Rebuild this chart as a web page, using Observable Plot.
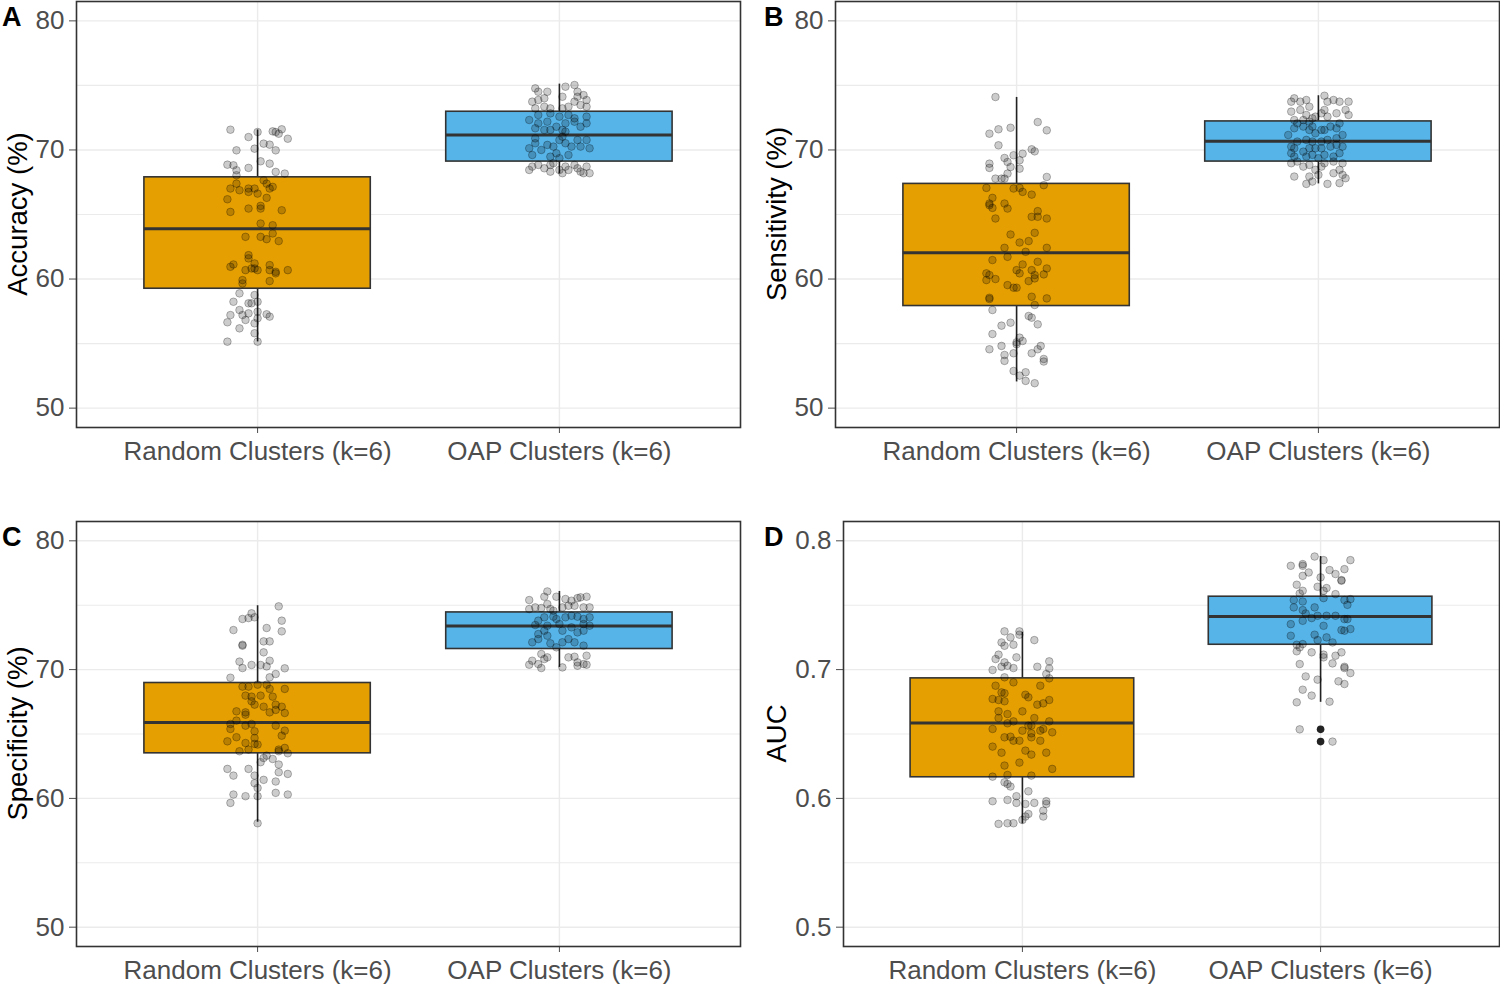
<!DOCTYPE html>
<html><head><meta charset="utf-8">
<script src="https://cdn.jsdelivr.net/npm/d3@7"></script>
<script src="https://cdn.jsdelivr.net/npm/@observablehq/plot@0.6"></script>
<style>
body{margin:0;background:#fff;}
#fig{position:relative;width:1500px;height:984px;overflow:hidden;background:#fff;}
#fig svg{position:absolute;}
</style></head><body><div id="fig"></div>
<script>
// ---------- data ----------
const categories = ["Random Clusters (k=6)", "OAP Clusters (k=6)"];
const boxFills = ["#E69F00", "#56B4E9"];
const pctTicks = [50, 60, 70, 80];
const pctMinor = [55, 65, 75];
const aucTicks = [0.5, 0.6, 0.7, 0.8];
const aucMinor = [0.55, 0.65, 0.75];

// box statistics per category: [lower whisker, Q1, median, Q3, upper whisker]
const accuracyStats = [[55.13, 59.25, 63.89, 67.88, 71.55], [68.15, 69.1, 71.16, 72.96, 75.1]];
const sensitivityStats = [[52.03, 57.91, 62.04, 67.37, 74.07], [67.37, 69.1, 70.67, 72.21, 74.2]];
const specificityStats = [[58.15, 63.5, 65.9, 68.96, 74.96], [70.17, 71.6, 73.38, 74.44, 76.07]];
const aucStats = [[0.5802, 0.6164, 0.6586, 0.6932, 0.7289], [0.6746, 0.7193, 0.7413, 0.7566, 0.7878]];
const aucOapOutliers = [0.6536, 0.6441];

// jittered observations: [value, horizontal jitter]
const accuracyRandom = [[71.57,-0.09],[71.0,-0.03],[71.39,0.0],[71.44,0.05],[71.39,0.06],[71.6,0.08],[71.26,0.07],[70.87,0.1],[69.97,-0.07],[70.1,-0.01],[70.49,0.02],[70.41,0.04],[69.97,0.06],[69.12,0.01],[68.94,0.04],[68.86,-0.1],[68.81,-0.08],[68.43,-0.07],[68.61,-0.03],[68.3,0.06],[68.17,0.09],[68.04,-0.07],
[67.39,-0.07],[67.01,-0.09],[66.88,-0.06],[66.75,-0.03],[67.01,-0.03],[67.01,-0.01],[67.65,0.02],[67.39,0.03],[67.01,0.04],[67.14,0.05],[66.18,-0.1],[66.62,0.0],[66.29,0.03],[65.67,0.01],[65.2,-0.09],[65.46,-0.03],[65.46,0.01],[65.33,0.08],[64.3,0.01],[64.17,0.05],
[63.27,-0.04],[63.27,0.01],[63.09,0.03],[63.53,0.05],[62.94,0.07],[61.85,-0.03],[61.6,-0.03],[61.13,-0.08],[60.95,-0.09],[60.69,-0.04],[60.82,-0.02],[61.21,-0.01],[60.82,-0.01],[60.69,0.0],[61.08,0.04],[60.69,0.04],[60.56,0.06],[60.44,0.06],[60.69,0.1],[59.92,-0.05],[59.66,-0.05],[59.84,0.04],
[58.89,-0.06],[58.76,-0.01],[58.24,-0.08],[58.12,-0.03],[58.12,-0.02],[58.24,0.0],[57.6,-0.06],[57.21,-0.09],[56.65,-0.1],[57.21,-0.05],[57.34,-0.03],[56.83,-0.04],[57.47,0.0],[57.27,0.03],[57.09,0.04],[56.96,0.0],[56.57,-0.01],[56.18,-0.06],[55.8,-0.01],[55.15,-0.1],[55.15,0.0]];
const accuracyOap = [[74.77,-0.08],[74.51,-0.07],[74.51,-0.04],[73.74,-0.09],[73.87,-0.07],[74.0,-0.05],[73.22,-0.08],[73.35,-0.05],[74.12,0.01],[74.9,0.02],[75.03,0.05],[74.51,0.06],[74.12,0.06],[73.74,0.05],[73.35,0.03],[74.25,0.08],[73.87,0.09],[73.35,0.09],[73.48,0.07],[73.22,-0.03],[73.22,0.01],
[72.71,-0.07],[72.83,-0.03],[72.58,0.0],[72.71,0.03],[72.45,0.05],[72.58,0.09],[72.19,-0.04],[72.06,0.02],[72.19,0.05],[71.68,-0.08],[71.55,-0.05],[71.55,-0.03],[71.8,-0.01],[71.55,0.01],[71.42,0.02],[71.8,0.07],[72.06,0.09],[72.06,-0.07],[72.32,-0.1],
[70.13,-0.1],[69.61,-0.09],[70.52,-0.08],[70.0,-0.06],[70.39,-0.04],[70.26,-0.02],[69.74,-0.01],[70.77,0.0],[70.52,0.02],[70.26,0.04],[70.77,0.06],[70.77,0.09],[70.13,0.1],[69.61,0.03],[69.48,-0.03],[69.36,0.0],[71.03,0.01],[70.9,-0.08],[70.26,0.07],
[68.45,-0.1],[68.71,-0.09],[68.84,-0.07],[68.58,-0.05],[68.84,-0.03],[68.97,-0.02],[68.45,0.0],[68.71,0.02],[68.45,0.03],[68.84,0.05],[68.58,0.06],[68.32,0.07],[68.2,0.08],[68.71,0.09],[68.2,0.1],[68.32,-0.03],[68.2,0.01]];
const sensitivityRandom = [[74.1,-0.07],[72.16,0.07],[71.52,0.1],[71.72,-0.02],[71.6,-0.06],[71.26,-0.09],[70.36,-0.06],[70.05,0.05],[69.89,0.06],[69.71,0.02],[69.59,-0.01],[69.38,-0.04],[69.07,-0.03],[68.94,-0.09],[68.61,-0.09],[68.68,-0.02],[68.55,0.01],[69.2,0.01],[68.17,-0.03],[67.78,-0.07],[67.78,-0.05],[67.78,-0.04],[67.91,0.1],[67.27,0.09],
[67.06,-0.1],[67.01,-0.01],[67.06,0.01],[66.75,0.02],[66.54,0.05],[66.29,-0.08],[65.85,-0.09],[65.72,-0.09],[65.51,-0.08],[65.85,-0.04],[65.46,-0.03],[64.69,-0.07],[64.82,0.05],[64.82,0.07],[64.69,0.1],[65.26,0.07],[63.45,-0.02],[63.58,0.06],[62.42,-0.04],[62.83,0.01],[62.94,0.04],[62.42,0.1],[62.11,0.03],[61.72,-0.03],[61.47,-0.08],[61.34,0.07],
[60.44,-0.1],[60.31,-0.09],[59.92,-0.1],[60.0,-0.07],[60.69,0.0],[61.13,0.02],[60.44,0.01],[60.69,0.05],[60.31,0.06],[60.05,0.06],[60.36,0.09],[60.82,0.1],[59.84,0.04],[59.53,-0.03],[59.33,-0.01],[59.33,0.0],[58.55,-0.09],[58.45,-0.09],[58.63,0.05],[58.5,0.1],[57.99,0.06],
[57.6,-0.08],[57.14,0.04],[57.01,0.05],[56.49,0.07],[56.39,-0.05],[56.62,-0.02],[55.74,-0.08],[55.46,0.01],[55.1,0.0],[55.2,0.02],[54.82,-0.05],[54.56,-0.09],[54.95,0.0],[54.82,0.08],[54.56,0.07],[54.25,0.05],[54.12,-0.04],[54.25,-0.01],[53.66,-0.04],[53.81,0.09],[53.61,0.09],[52.88,-0.01],[52.78,0.03],[52.52,0.01],[52.11,0.03],[51.93,0.06]];
const sensitivityOap = [[73.74,-0.09],[74.0,-0.08],[73.74,-0.06],[73.87,-0.04],[73.35,-0.03],[72.97,-0.09],[73.1,-0.06],[72.71,-0.04],[72.45,-0.02],[72.58,-0.01],[74.2,0.02],[73.74,0.03],[73.87,0.05],[73.74,0.07],[73.74,0.1],[73.1,0.09],[72.71,0.1],[72.84,0.06],[73.1,0.02],[72.58,0.03],[72.84,0.01],[72.32,-0.08],[72.32,-0.05],[72.19,-0.03],
[71.16,-0.1],[71.68,-0.08],[72.06,-0.07],[71.81,-0.05],[71.55,-0.03],[71.81,-0.02],[71.29,-0.01],[71.55,0.01],[71.55,0.02],[71.81,0.04],[71.68,0.06],[72.06,0.07],[71.16,0.08],[70.91,0.06],[70.78,0.03],[70.65,0.01],[70.65,-0.02],[70.78,-0.04],[70.65,-0.07],[70.26,-0.09],[70.13,-0.08],[69.87,-0.05],[70.13,-0.03],[70.13,-0.01],[70.13,0.01],[70.26,0.04],[70.39,0.06],[70.26,0.08],[69.49,-0.08],[69.49,-0.04],[69.62,-0.02],[69.36,0.0],[69.62,0.02],[69.49,0.05],[69.75,-0.09],[69.75,0.07],
[68.97,-0.09],[69.1,-0.07],[68.71,-0.05],[68.84,-0.03],[68.46,-0.01],[68.71,0.01],[68.97,0.02],[69.1,0.05],[68.97,0.08],[68.46,0.07],[68.2,0.05],[68.07,0.08],[67.81,0.09],[67.94,-0.08],[67.94,-0.03],[68.07,0.0],[67.37,-0.04],[67.37,0.03],[67.55,-0.02],[67.43,0.07]];
const specificityRandom = [[74.91,0.07],[74.37,-0.02],[74.0,-0.03],[73.93,-0.05],[74.06,-0.01],[73.8,0.08],[73.07,-0.08],[73.23,0.03],[72.97,0.08],[71.86,-0.05],[71.93,-0.05],[72.19,0.02],[72.19,0.04],[71.34,0.02],[70.62,-0.06],[70.12,-0.05],[70.36,-0.02],[70.36,0.01],[70.25,0.03],[70.69,0.04],[70.1,0.09],[69.37,-0.09],[69.4,0.04],[69.66,0.06],
[68.68,-0.05],[68.68,-0.03],[68.83,0.0],[68.83,0.03],[68.5,0.04],[68.5,0.09],[67.98,-0.04],[67.9,-0.02],[67.98,0.01],[67.9,0.05],[67.54,-0.02],[67.28,-0.01],[67.12,0.02],[67.28,0.06],[67.12,0.08],[66.68,0.04],[66.87,0.06],[66.63,0.09],[66.76,-0.07],[66.68,-0.04],[66.5,-0.04],[66.04,-0.07],[65.78,-0.09],[65.65,-0.04],[65.78,-0.02],[65.65,0.06],[65.39,-0.09],[65.26,0.09],[65.21,-0.01],[64.75,-0.07],[64.69,-0.01],[64.87,0.08],[64.43,-0.1],[64.3,-0.04],[64.23,-0.01],[64.18,0.0],[63.66,-0.06],[63.79,-0.03],[63.79,0.07],[63.92,0.09],[63.5,0.1],[63.66,0.07],
[62.81,0.01],[63.32,0.03],[63.06,0.05],[63.14,0.02],[62.63,0.07],[62.29,-0.1],[62.29,-0.03],[61.77,-0.08],[61.77,-0.01],[62.03,0.07],[61.9,0.1],[61.18,-0.01],[61.44,0.02],[61.31,0.06],[60.81,0.0],[60.3,-0.08],[60.17,-0.04],[60.17,0.0],[60.43,0.06],[60.3,0.1],[59.65,-0.09],[58.07,0.0]];
const specificityOap = [[76.07,-0.04],[75.66,-0.05],[75.66,-0.01],[75.4,-0.1],[75.48,0.02],[75.35,0.04],[75.55,0.06],[75.61,0.07],[75.66,0.09],[74.83,-0.08],[74.7,-0.1],[74.78,-0.06],[74.7,-0.03],[74.57,-0.02],[74.83,0.01],[74.96,0.03],[74.96,0.05],[74.83,0.08],[74.83,0.1],[75.09,-0.04],
[73.8,-0.07],[74.06,-0.05],[74.11,-0.02],[73.93,-0.01],[74.06,0.02],[74.18,0.04],[74.11,0.06],[73.93,0.08],[74.06,0.1],[73.46,-0.08],[73.41,-0.04],[73.54,0.0],[73.28,0.04],[73.54,0.08],[73.41,0.1],[72.76,-0.07],[73.02,-0.05],[73.02,0.01],[72.89,0.06],[73.02,0.08],[72.12,-0.09],[72.37,-0.07],[72.04,-0.03],[72.12,0.01],[72.12,0.05],[71.86,0.08],[71.73,-0.01],[72.37,0.03],[72.63,-0.04],
[71.21,-0.06],[70.95,-0.04],[70.69,-0.09],[70.43,-0.07],[70.38,-0.1],[70.12,-0.06],[70.17,0.01],[70.95,0.03],[71.0,0.05],[70.56,0.06],[70.43,0.08],[71.08,0.09],[70.38,0.09],[70.3,0.06],[70.82,-0.05]];
const aucRandom = [[0.7297,-0.06],[0.7297,-0.01],[0.7250,-0.04],[0.7271,-0.01],[0.7229,0.04],[0.7211,-0.07],[0.7185,-0.06],[0.7193,-0.03],[0.7116,-0.08],[0.7095,-0.02],[0.7082,-0.09],[0.7056,-0.06],[0.7030,-0.05],[0.7022,-0.07],[0.7012,-0.03],[0.6997,-0.1],[0.7022,0.05],[0.7064,0.09],[0.7009,0.09],[0.6966,0.08],[0.6932,0.09],[0.6940,-0.06],
[0.6901,-0.03],[0.6875,0.06],[0.6875,-0.09],[0.6823,-0.07],[0.6816,-0.06],[0.6772,-0.1],[0.6764,-0.08],[0.6754,-0.06],[0.6805,0.01],[0.6785,0.02],[0.6728,0.05],[0.6738,0.07],[0.6764,0.09],[0.6676,0.0],[0.6676,-0.08],[0.6655,-0.05],[0.6624,-0.08],[0.6624,0.04],[0.6598,-0.03],[0.6583,-0.05],[0.6565,0.02],[0.6565,0.03],[0.6598,0.09],[0.6539,0.07],[0.6539,-0.1],[0.6474,-0.06],[0.6479,-0.04],[0.6526,0.0],[0.6505,0.03],[0.6526,0.06],[0.6513,0.1],[0.6448,-0.03],[0.6448,-0.01],[0.6474,0.03],[0.6448,0.06],[0.6402,-0.1],[0.6355,-0.07],[0.6371,0.01],[0.6340,0.03],[0.6355,0.08],[0.6255,-0.06],[0.6278,-0.01],[0.6229,0.1],[0.6169,-0.1],[0.6182,-0.05],[0.6177,0.03],
[0.6112,-0.05],[0.6092,-0.04],[0.6125,-0.06],[0.6055,0.02],[0.6017,-0.02],[0.5988,-0.05],[0.5978,-0.1],[0.5965,-0.02],[0.5957,0.01],[0.5965,0.04],[0.5978,0.08],[0.5957,0.08],[0.5905,0.07],[0.5879,0.02],[0.5859,0.01],[0.5859,0.07],[0.5802,-0.08],[0.5807,-0.05],[0.5807,-0.03],[0.5833,0.0]];
const aucOap = [[0.7878,-0.02],[0.7850,0.01],[0.7850,0.1],[0.7806,-0.1],[0.7806,-0.06],[0.7819,-0.06],[0.7754,-0.04],[0.7728,-0.06],[0.7716,0.0],[0.7773,0.03],[0.7742,0.05],[0.7780,0.08],[0.7695,0.07],[0.7690,0.07],[0.7659,-0.08],[0.7612,-0.06],[0.7591,-0.07],[0.7643,-0.01],[0.7633,0.02],[0.7612,0.01],[0.7586,0.05],
[0.7540,-0.09],[0.7529,-0.06],[0.7555,0.01],[0.7540,0.08],[0.7547,0.1],[0.7503,0.09],[0.7483,-0.09],[0.7483,-0.02],[0.7462,-0.06],[0.7436,-0.05],[0.7418,-0.01],[0.7418,0.02],[0.7418,0.05],[0.7392,0.08],[0.7392,0.09],[0.7353,-0.1],[0.7379,-0.06],[0.7400,-0.03],[0.7340,0.01],[0.7307,0.07],[0.7315,0.1],[0.7302,0.08],[0.7263,-0.1],[0.7271,-0.02],[0.7250,0.02],[0.7229,-0.01],[0.7211,0.04],[0.7193,-0.08],
[0.7173,-0.07],[0.7142,-0.08],[0.7134,-0.03],[0.7198,-0.06],[0.7095,0.01],[0.7116,0.01],[0.7108,0.05],[0.7134,0.07],[0.7043,-0.07],[0.7048,0.04],[0.7022,0.08],[0.7012,0.08],[0.6973,0.1],[0.6947,-0.05],[0.6922,-0.01],[0.6909,0.06],[0.6888,0.08],[0.6844,-0.06],[0.6798,-0.03],[0.6746,-0.08],[0.6751,0.03],[0.6536,-0.07],[0.6441,0.04]];

// ---------- drawing ----------
const FONT = "'Liberation Sans', Arial, Helvetica, sans-serif";
const fig = document.getElementById("fig");

function panel(cfg) {
  const stats = cfg.stats.map((s, k) => ({i: k + 1, lo: s[0], q1: s[1], med: s[2], q3: s[3], hi: s[4]}));
  const pts = [];
  cfg.groups.forEach((g, k) => g.forEach(([v, j]) => pts.push({i: k + 1, v, j})));
  const outs = (cfg.outliers || []).map(o => ({i: o[0], v: o[1]}));
  const W = 0.375;
  const chart = Plot.plot({
    width: cfg.width, height: cfg.height,
    marginLeft: cfg.mL, marginRight: cfg.mR, marginTop: cfg.mT, marginBottom: cfg.mB,
    style: {fontSize: "26px", fontFamily: FONT, color: "#4D4D4D", background: "transparent", overflow: "visible"},
    x: {domain: [0.4, 2.6], ticks: [1, 2], tickFormat: i => categories[i - 1], tickSize: 6, tickPadding: 8, label: null},
    y: {domain: cfg.domain, ticks: cfg.ticks, tickFormat: cfg.fmt, tickSize: 7, tickPadding: 5, label: null},
    marks: [
      Plot.ruleY(cfg.minor, {stroke: "#EBEBEB", strokeWidth: 1.1}),
      Plot.ruleY(cfg.ticks, {stroke: "#EBEBEB", strokeWidth: 1.4}),
      Plot.ruleX([1, 2], {stroke: "#EBEBEB", strokeWidth: 1.4}),
      Plot.ruleX(stats, {x: "i", y1: "q3", y2: "hi", stroke: "#222", strokeWidth: 1.6}),
      Plot.ruleX(stats, {x: "i", y1: "lo", y2: "q1", stroke: "#222", strokeWidth: 1.6}),
      Plot.rect(stats, {x1: d => d.i - W, x2: d => d.i + W, y1: "q1", y2: "q3", fill: d => boxFills[d.i - 1], stroke: "#333333", strokeWidth: 1.6}),
      Plot.ruleY(stats, {y: "med", x1: d => d.i - W, x2: d => d.i + W, stroke: "#333333", strokeWidth: 3}),
      Plot.dot(outs, {x: "i", y: "v", r: 3.8, fill: "#222", stroke: "none"}),
      Plot.dot(pts, {x: d => d.i + d.j, y: "v", r: 3.8, fill: "black", fillOpacity: 0.2, stroke: "black", strokeOpacity: 0.3, strokeWidth: 0.9}),
      Plot.frame({stroke: "#333333", strokeWidth: 1.6})
    ]
  });
  chart.style.left = cfg.left + "px";
  chart.style.top = cfg.top + "px";
  const svg = d3.select(chart);
  const cy = (cfg.mT + cfg.height - cfg.mB) / 2;
  svg.append("text")
    .attr("transform", `translate(${cfg.titleX},${cy}) rotate(-90)`)
    .attr("text-anchor", "middle").attr("fill", "black")
    .attr("font-family", FONT).attr("font-size", 27.5)
    .text(cfg.title);
  svg.append("text")
    .attr("x", cfg.letterX).attr("y", cfg.letterY)
    .attr("text-anchor", "start")
    .attr("fill", "black").attr("font-family", FONT).attr("font-size", 27).attr("font-weight", "bold")
    .text(cfg.letter);
  fig.appendChild(chart);
}

const pctFmt = d => String(d);
const aucFmt = d3.format(".1f");

panel({left: 0, top: 0, width: 750, height: 492, mL: 76, mR: 10, mT: 1, mB: 65,
  domain: [48.5, 81.5], ticks: pctTicks, minor: pctMinor, fmt: pctFmt,
  stats: accuracyStats, groups: [accuracyRandom, accuracyOap],
  title: "Accuracy (%)", titleX: 27, letter: "A", letterX: 2, letterY: 26});
panel({left: 750, top: 0, width: 750, height: 492, mL: 85, mR: 1, mT: 1, mB: 65,
  domain: [48.5, 81.5], ticks: pctTicks, minor: pctMinor, fmt: pctFmt,
  stats: sensitivityStats, groups: [sensitivityRandom, sensitivityOap],
  title: "Sensitivity (%)", titleX: 36, letter: "B", letterX: 14, letterY: 26});
panel({left: 0, top: 492, width: 750, height: 492, mL: 76, mR: 10, mT: 29, mB: 38,
  domain: [48.5, 81.5], ticks: pctTicks, minor: pctMinor, fmt: pctFmt,
  stats: specificityStats, groups: [specificityRandom, specificityOap],
  title: "Specificity (%)", titleX: 27, letter: "C", letterX: 2, letterY: 54});
panel({left: 750, top: 492, width: 750, height: 492, mL: 93, mR: 1, mT: 29, mB: 38,
  domain: [0.485, 0.815], ticks: aucTicks, minor: aucMinor, fmt: aucFmt,
  stats: aucStats, groups: [aucRandom, aucOap], outliers: aucOapOutliers.map(v => [2, v]),
  title: "AUC", titleX: 36, letter: "D", letterX: 14, letterY: 54});
</script>
</body></html>
